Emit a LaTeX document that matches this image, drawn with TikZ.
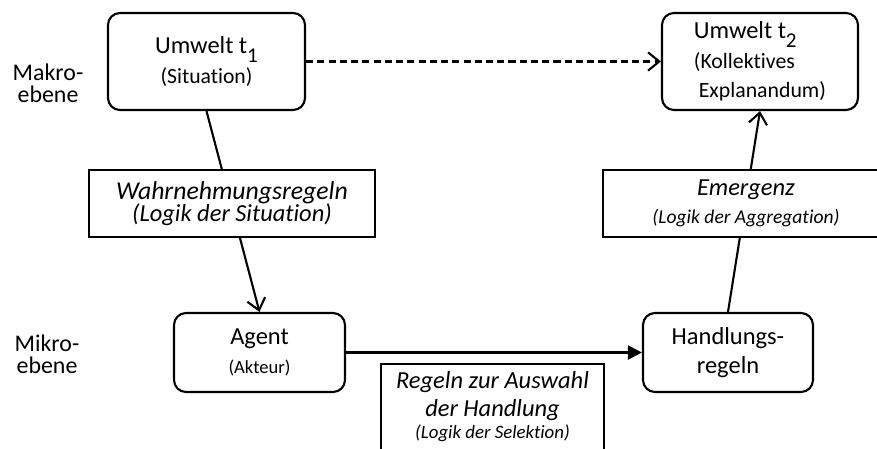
\documentclass[tikz,border=0pt]{standalone}
\usepackage{fontspec}
\setmainfont{Carlito}[Ligatures=NoCommon]
\usetikzlibrary{arrows.meta}

\newcommand{\tsub}[1]{\raisebox{-0.37em}{\fontsize{15}{15}\selectfont #1}}

\tikzset{
	block/.style={draw, rectangle, rounded corners=0.3cm, line width=1.5pt, align=center, minimum height=1.975cm, inner sep=2pt, font=\fontsize{17.4}{21}\selectfont},
	regel/.style={draw, rectangle, fill=white, line width=1.5pt, align=center, minimum height=1.675cm, minimum width=7.15cm, inner sep=2pt, font=\itshape\fontsize{17.4}{20}\selectfont},
	ebene/.style={align=center, font=\fontsize{17}{15.4}\selectfont},
	link/.style={line width=1.5pt, -{Straight Barb[length=8pt, width=13pt]}}
}

\begin{document}
\begin{tikzpicture}
		
		\useasboundingbox (0,0) rectangle (21.925,-11.225);
		\clip (0,0) rectangle (21.925,-11.225);
		
		%Levels
		\node (Makro) at (1.2,-2.075) [ebene]{Makro-\\ebene};
		\node (Mikro) at (1.175,-8.8625) [ebene]{Mikro-\\ebene};
		
		%Blocks
		\node (UmweltEins) at (5.1625,-1.5375) [block, minimum width=4.925cm, minimum 
		height=2.425cm]{Umwelt t\tsub{1}\\{\fontsize{15.4}{20}\selectfont(Situation)}};
		\node (UmweltZwei) at (19,-1.5375) [block, align=left, minimum width=4.9cm, minimum 
		height=2.425cm]{Umwelt t\tsub{2}\\{\fontsize{15.5}{18}\selectfont(Kollektives}\\
		{\fontsize{15.5}{18}\selectfont\ Explanandum)\hspace{10pt}}};
		\node (Agent) at (6.4875,-8.8125) [block, minimum width=4.275cm]{Agent\\
		{\fontsize{13.2}{17}\selectfont(Akteur)}};
		\node (Handlungsregeln) at (18.2,-8.8125) [block, minimum width=4.25cm]{Handlungs-\\regeln};
		
		%Links
		\draw[link] (UmweltEins.south) -- (Agent.north);
		\draw[line width=1.5pt, -{Triangle[length=10pt, width=10pt]}] (Agent) -- (Handlungsregeln);
		\draw[link] (Handlungsregeln.north) -- (UmweltZwei.south);
		\draw[link, dash pattern=on 5pt off 3pt] (UmweltEins) -- (UmweltZwei);
		
		%Rules
		\node (Wahrnehmung) at (5.8,-5.0875) [regel, font=\itshape\fontsize{18.3}{16}\selectfont]{Wahrnehmungsregeln\\
		{\fontsize{17.4}{16}\selectfont(Logik der Situation)}};
		\node (Emergenz) at (18.65,-5.0875) [regel]{Emergenz\\
		{\fontsize{13.9}{20}\selectfont(Logik der Aggregation)}};
		\node (Auswahl) at (12.3125,-9.075) [regel, anchor=north, minimum width=5.575cm, inner 
		xsep=8pt, inner ysep=5pt, text depth=0.8cm]{Regeln zur Auswahl\\der Handlung\\[-4pt]{\fontsize{13.4}{14.5}\selectfont(Logik der Selektion)}};
		
		\end{tikzpicture}
\end{document}
